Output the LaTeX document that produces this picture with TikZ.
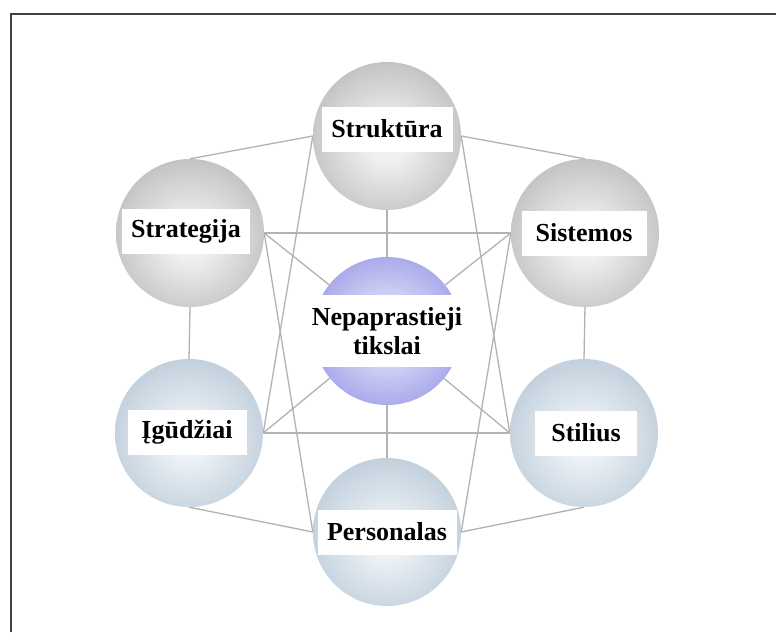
\documentclass[tikz,border=0pt]{standalone}
\usepackage{fontspec}
\setmainfont{Liberation Serif}
\usetikzlibrary{backgrounds}
\definecolor{gIn}{HTML}{F0F0F0}
\definecolor{gMid}{HTML}{CACACA}
\definecolor{gOut}{HTML}{A0A0A0}
\definecolor{bIn}{HTML}{EEF2F6}
\definecolor{bMid}{HTML}{C8D5E0}
\definecolor{bOut}{HTML}{A2B8C9}
\definecolor{pIn}{HTML}{D6D6F6}
\definecolor{pMid}{HTML}{A8A8EA}
\definecolor{pOut}{HTML}{8484D6}
\definecolor{linkgray}{HTML}{B2B2B2}
\definecolor{framegray}{HTML}{404040}
\pgfdeclareradialshading{graysph}{\pgfpoint{0bp}{-3bp}}{color(0bp)=(gIn); color(6bp)=(gIn); color(24bp)=(gMid); color(42bp)=(gOut); color(70bp)=(gOut)}
\pgfdeclareradialshading{bluesph}{\pgfpoint{0bp}{-3bp}}{color(0bp)=(bIn); color(6bp)=(bIn); color(24bp)=(bMid); color(42bp)=(bOut); color(70bp)=(bOut)}
\pgfdeclareradialshading{purplesph}{\pgfpoint{0bp}{0bp}}{color(0bp)=(pIn); color(10bp)=(pIn); color(26bp)=(pMid); color(40bp)=(pOut); color(70bp)=(pOut)}
\tikzset{
  ball/.style={circle, minimum size=148pt, inner sep=0pt, draw=none},
  grayball/.style={ball, shading=graysph},
  blueball/.style={ball, shading=bluesph},
  labelbox/.style={fill=white, inner sep=0pt, minimum height=45pt,
    font=\bfseries\fontsize{26}{29}\selectfont, text=black},
  link/.style={draw=linkgray, line width=1.3pt},
}
\begin{document}
\begin{tikzpicture}[x=1pt,y=-1pt]
\useasboundingbox (0,0) rectangle (776,632);
% circles
\node[grayball] (sk) at (387,136) {};
\node[grayball] (sg) at (190,233) {};
\node[grayball] (ss) at (585,233) {};
\node[blueball] (ig) at (189,433) {};
\node[blueball] (st) at (584,433) {};
\node[blueball] (pe) at (387,532) {};
\node[ball, shading=purplesph] (ce) at (387,331) {};
% label boxes
\node[labelbox, minimum width=131pt] (skl) at (387,129) {Struktūra};
\node[labelbox, minimum width=128pt] (sgl) at (186,231) {Strategija};
\node[labelbox, minimum width=125pt] (ssl) at (584,233) {Sistemos};
\node[labelbox, minimum width=119pt] (igl) at (187,432) {Įgūdžiai};
\node[labelbox, minimum width=102pt] (stl) at (586,433) {Stilius};
\node[labelbox, minimum width=139pt] (pel) at (387,532) {Personalas};
\node[labelbox, minimum width=156pt, minimum height=72pt, align=center] (cel) at (387,331) {Nepaprastieji\\tikslai};
\begin{scope}[on background layer]
  \fill[white] (0,0) rectangle (776,632);
  \coordinate (frTL) at (11,14);
  \coordinate (frTR) at (776,14);
  \coordinate (frBL) at (11,632);
  \draw[framegray, line width=2.5pt] (frBL) -- (frTL) -- (frTR);
  % hexagon edges
  \draw[link] (sg.north) -- (sk.west);
  \draw[link] (sk.east) -- (ss.north);
  \draw[link] (sg.south) -- (ig.north);
  \draw[link] (ss.south) -- (st.north);
  \draw[link] (ig.south) -- (pe.west);
  \draw[link] (st.south) -- (pe.east);
  % spokes
  \draw[link] (sk.south) -- (ce.north);
  \draw[link] (pe.north) -- (ce.south);
  \draw[link] (sg.east) -- (ce);
  \draw[link] (ss.west) -- (ce);
  \draw[link] (ig.east) -- (ce);
  \draw[link] (st.west) -- (ce);
  % horizontals
  \draw[link] (sg.east) -- (ss.west);
  \draw[link] (ig.east) -- (st.west);
  % crossing lines
  \draw[link] (sg.east) -- (pe.west);
  \draw[link] (ss.west) -- (pe.east);
  \draw[link] (ig.east) -- (sk.west);
  \draw[link] (st.west) -- (sk.east);
\end{scope}
\end{tikzpicture}
\end{document}
